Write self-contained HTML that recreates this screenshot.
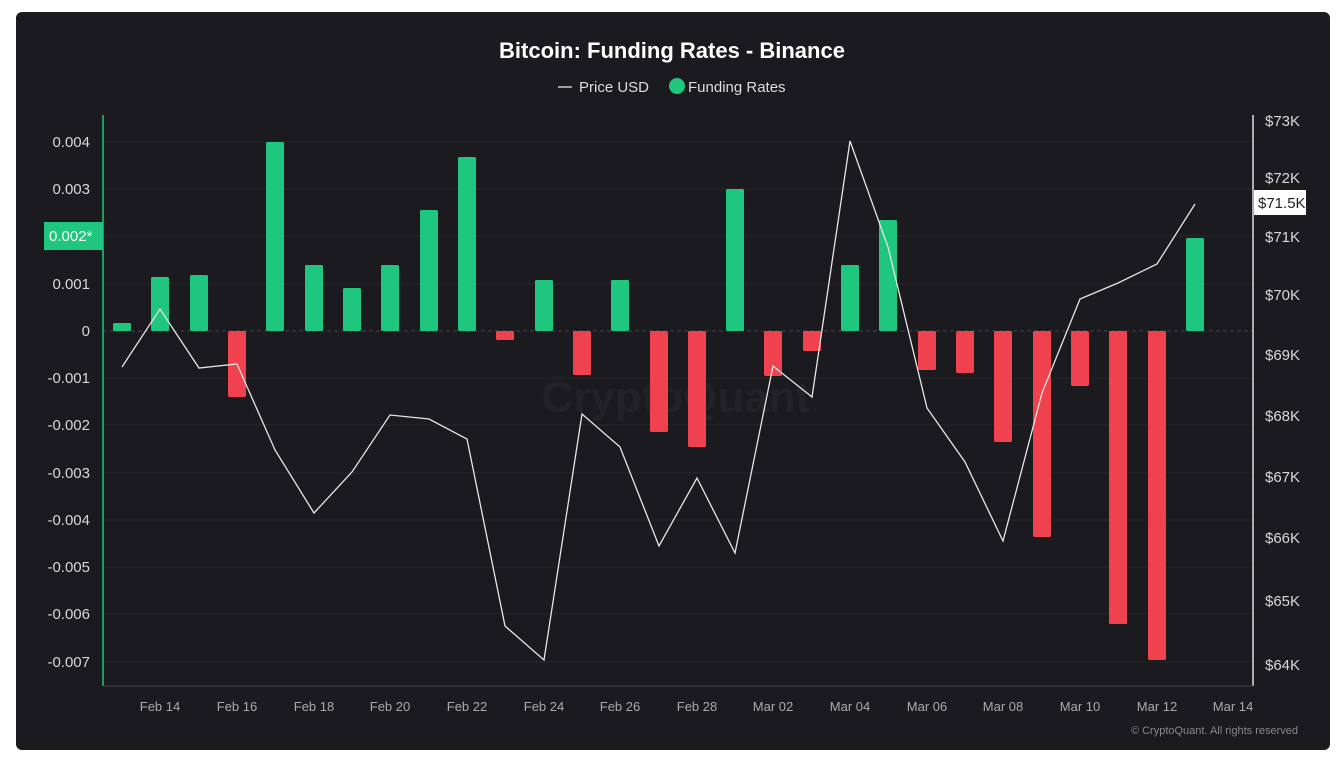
<!DOCTYPE html>
<html><head><meta charset="utf-8"><style>
html,body{margin:0;padding:0;background:#fff;width:1339px;height:757px;overflow:hidden}
svg{display:block;font-family:"Liberation Sans",Arial,sans-serif}
</style></head><body>
<svg width="1339" height="757" viewBox="0 0 1339 757" xmlns="http://www.w3.org/2000/svg">
<rect x="16" y="12" width="1314" height="738" rx="6" fill="#1b1b1f"/>
<text x="672" y="58" text-anchor="middle" fill="#fff" font-size="22" font-weight="bold">Bitcoin: Funding Rates - Binance</text>
<line x1="558" y1="87" x2="572" y2="87" stroke="#ccc" stroke-width="1.5"/>
<text x="579" y="92" fill="#ddd" font-size="15">Price USD</text>
<circle cx="677" cy="86" r="8" fill="#1fc77e"/>
<text x="688" y="92" fill="#ddd" font-size="15">Funding Rates</text>
<g stroke="#26262b" stroke-width="1">
<line x1="103" y1="142" x2="1253" y2="142"/><line x1="103" y1="189" x2="1253" y2="189"/><line x1="103" y1="236" x2="1253" y2="236"/><line x1="103" y1="284" x2="1253" y2="284"/><line x1="103" y1="378" x2="1253" y2="378"/><line x1="103" y1="425" x2="1253" y2="425"/><line x1="103" y1="473" x2="1253" y2="473"/><line x1="103" y1="520" x2="1253" y2="520"/><line x1="103" y1="567" x2="1253" y2="567"/><line x1="103" y1="614" x2="1253" y2="614"/><line x1="103" y1="662" x2="1253" y2="662"/>
</g>
<line x1="103" y1="331" x2="1253" y2="331" stroke="#444" stroke-dasharray="4,3"/>
<text x="676" y="412" text-anchor="middle" fill="#222227" font-size="44" font-weight="bold">CryptoQuant</text>
<g fill="#1fc77e">
<rect x="113" y="323" width="18" height="8" rx="1.5"/><rect x="151" y="277" width="18" height="54" rx="1.5"/><rect x="190" y="275" width="18" height="56" rx="1.5"/><rect x="266" y="142" width="18" height="189" rx="1.5"/><rect x="305" y="265" width="18" height="66" rx="1.5"/><rect x="343" y="288" width="18" height="43" rx="1.5"/><rect x="381" y="265" width="18" height="66" rx="1.5"/><rect x="420" y="210" width="18" height="121" rx="1.5"/><rect x="458" y="157" width="18" height="174" rx="1.5"/><rect x="535" y="280" width="18" height="51" rx="1.5"/><rect x="611" y="280" width="18" height="51" rx="1.5"/><rect x="726" y="189" width="18" height="142" rx="1.5"/><rect x="841" y="265" width="18" height="66" rx="1.5"/><rect x="879" y="220" width="18" height="111" rx="1.5"/><rect x="1186" y="238" width="18" height="93" rx="1.5"/>
</g>
<g fill="#f0414f">
<rect x="228" y="331" width="18" height="66" rx="1.5"/><rect x="496" y="331" width="18" height="9" rx="1.5"/><rect x="573" y="331" width="18" height="44" rx="1.5"/><rect x="650" y="331" width="18" height="101" rx="1.5"/><rect x="688" y="331" width="18" height="116" rx="1.5"/><rect x="764" y="331" width="18" height="45" rx="1.5"/><rect x="803" y="331" width="18" height="20" rx="1.5"/><rect x="918" y="331" width="18" height="39" rx="1.5"/><rect x="956" y="331" width="18" height="42" rx="1.5"/><rect x="994" y="331" width="18" height="111" rx="1.5"/><rect x="1033" y="331" width="18" height="206" rx="1.5"/><rect x="1071" y="331" width="18" height="55" rx="1.5"/><rect x="1109" y="331" width="18" height="293" rx="1.5"/><rect x="1148" y="331" width="18" height="329" rx="1.5"/>
</g>
<polyline fill="none" stroke="#e6e6e6" stroke-width="1.3" points="122,367 160,309 199,368 237,364 275,450 314,513 352,472 390,415 429,419 467,439 505,626 544,660 582,414 620,447 659,546 697,478 735,553 773,366 812,397 850,141 888,247 927,408 965,462 1003,541 1042,393 1080,299 1118,283 1157,264 1195,204"/>
<line x1="103" y1="115" x2="103" y2="686" stroke="#1fc77e" stroke-width="1.5"/>
<line x1="1253" y1="115" x2="1253" y2="686" stroke="#ddd" stroke-width="1.5"/>
<line x1="103" y1="686" x2="1253" y2="686" stroke="#444" stroke-width="1"/>
<g fill="#d8d8d8" font-size="15" text-anchor="end">
<text x="90" y="147">0.004</text><text x="90" y="194">0.003</text><text x="90" y="289">0.001</text><text x="90" y="336">0</text><text x="90" y="383">-0.001</text><text x="90" y="430">-0.002</text><text x="90" y="478">-0.003</text><text x="90" y="525">-0.004</text><text x="90" y="572">-0.005</text><text x="90" y="619">-0.006</text><text x="90" y="667">-0.007</text>
</g>
<rect x="44" y="222" width="59" height="28" fill="#1fc77e"/>
<text x="49" y="241" fill="#fff" font-size="15">0.002*</text>
<g fill="#d8d8d8" font-size="15">
<text x="1265" y="126">$73K</text><text x="1265" y="183">$72K</text><text x="1265" y="242">$71K</text><text x="1265" y="300">$70K</text><text x="1265" y="360">$69K</text><text x="1265" y="421">$68K</text><text x="1265" y="482">$67K</text><text x="1265" y="543">$66K</text><text x="1265" y="606">$65K</text><text x="1265" y="670">$64K</text>
</g>
<rect x="1254" y="190" width="52" height="25" fill="#fff"/>
<text x="1258" y="208" fill="#222" font-size="15">$71.5K</text>
<g fill="#aaa" font-size="13" text-anchor="middle">
<text x="160" y="711">Feb 14</text><text x="237" y="711">Feb 16</text><text x="314" y="711">Feb 18</text><text x="390" y="711">Feb 20</text><text x="467" y="711">Feb 22</text><text x="544" y="711">Feb 24</text><text x="620" y="711">Feb 26</text><text x="697" y="711">Feb 28</text><text x="773" y="711">Mar 02</text><text x="850" y="711">Mar 04</text><text x="927" y="711">Mar 06</text><text x="1003" y="711">Mar 08</text><text x="1080" y="711">Mar 10</text><text x="1157" y="711">Mar 12</text><text x="1233" y="711">Mar 14</text>
</g>
<text x="1298" y="734" text-anchor="end" fill="#888" font-size="11">© CryptoQuant. All rights reserved</text>
</svg>
</body></html>
